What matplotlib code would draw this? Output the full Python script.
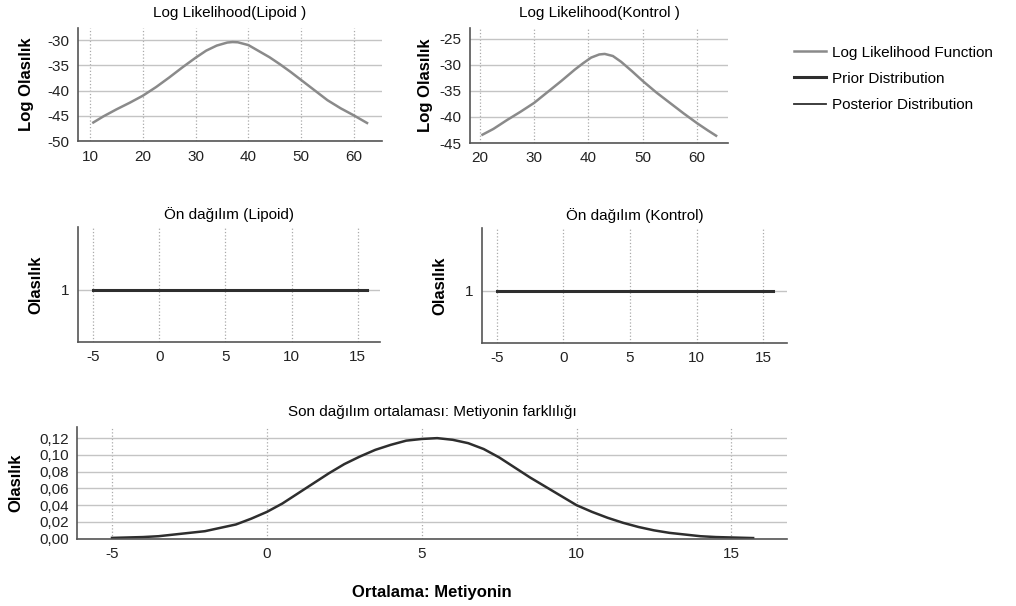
import matplotlib
matplotlib.use('Agg')
import matplotlib.pyplot as plt
from matplotlib.lines import Line2D

plt.rcParams['font.family'] = ['Liberation Sans', 'DejaVu Sans']
plt.rcParams['axes.unicode_minus'] = False

# log likelihood
lipoid_x = [10.6, 12.5, 15, 17.5, 20, 22.5, 25, 27.5, 30, 32, 34, 36, 37, 38,
            40, 42, 44, 46, 48, 50, 52.5, 55, 57.5, 60, 62.5]
lipoid_ll = [-46.3, -45.1, -43.7, -42.4, -41.0, -39.3, -37.4, -35.4, -33.5,
             -32.1, -31.1, -30.5, -30.4, -30.45, -31.0, -32.2, -33.4, -34.8,
             -36.3, -37.9, -39.9, -41.9, -43.5, -44.9, -46.4]
kontrol_x = [20.5, 22.5, 25, 27.5, 30, 32.5, 35, 37.5, 39, 40.5, 42, 43, 44.5,
             46, 48, 50, 52.5, 55, 57.5, 60, 62, 63.5]
kontrol_ll = [-43.4, -42.3, -40.6, -39.0, -37.3, -35.2, -33.1, -30.9, -29.7,
              -28.6, -28.0, -27.9, -28.3, -29.4, -31.2, -33.1, -35.3, -37.3,
              -39.3, -41.2, -42.6, -43.6]

# prior (flat)
prior_x = [-5, 15.7]
prior_lipoid = [1.0, 1.0]
prior_kontrol = [1.0, 1.0]

# posterior of the mean difference
post_x = [-5, -4.5, -4, -3.5, -3, -2.5, -2, -1.5, -1, -0.5, 0, 0.5, 1, 1.5, 2,
          2.5, 3, 3.5, 4, 4.5, 5, 5.5, 6, 6.5, 7, 7.5, 8, 8.5, 9, 9.5, 10,
          10.5, 11, 11.5, 12, 12.5, 13, 13.5, 14, 14.5, 15, 15.7]
post_y = [0.001, 0.0015, 0.002, 0.003, 0.005, 0.007, 0.009, 0.013, 0.017,
          0.024, 0.032, 0.042, 0.054, 0.066, 0.078, 0.089, 0.098, 0.106,
          0.112, 0.117, 0.119, 0.120, 0.118, 0.114, 0.107, 0.097, 0.085,
          0.073, 0.062, 0.051, 0.040, 0.032, 0.025, 0.019, 0.014, 0.010,
          0.007, 0.005, 0.003, 0.002, 0.0015, 0.0008]

ll_lip_yticks = [-50, -45, -40, -35, -30]
ll_kon_yticks = [-45, -40, -35, -30, -25]
ll_xticks = [10, 20, 30, 40, 50, 60]
prior_xticks = [-5, 0, 5, 10, 15]
post_yticks = [0.00, 0.02, 0.04, 0.06, 0.08, 0.10, 0.12]

LL_COL = '#8a8a8a'
DARK = '#2e2e2e'
GRID = '#c4c4c4'
FS = 11
LFS = 12


def style(ax):
    for s in ['top', 'right']:
        ax.spines[s].set_visible(False)
    for s in ['left', 'bottom']:
        ax.spines[s].set_color('#555555')
        ax.spines[s].set_linewidth(1.2)
    ax.tick_params(length=0, labelsize=FS, colors='#222222', pad=6)
    ax.grid(axis='y', color=GRID, lw=1.0, ls='-')
    ax.grid(axis='x', color='#aaaaaa', lw=0.9, ls=':')
    ax.set_axisbelow(True)


fig = plt.figure(figsize=(10.16, 6.06), dpi=100)

# Log likelihood (Lipoid)
ax1 = fig.add_axes([0.0768, 0.767, 0.299, 0.187])
ax1.plot(lipoid_x, lipoid_ll, color=LL_COL, lw=1.8)
ax1.set_xlim(7.7, 65.3)
ax1.set_ylim(-50, -27.6)
ax1.set_xticks(ll_xticks)
ax1.set_yticks(ll_lip_yticks)
ax1.set_title('Log Likelihood(Lipoid )', fontsize=FS, pad=8)
ax1.set_ylabel('Log Olasılık', fontsize=LFS, fontweight='bold')
ax1.yaxis.set_label_coords(-0.145, 0.5)
style(ax1)

# Log likelihood (Kontrol)
ax2 = fig.add_axes([0.4626, 0.764, 0.254, 0.190])
ax2.plot(kontrol_x, kontrol_ll, color=LL_COL, lw=1.8)
ax2.set_xlim(18.2, 65.7)
ax2.set_ylim(-45, -22.9)
ax2.set_xticks(ll_xticks[1:])
ax2.set_yticks(ll_kon_yticks)
ax2.set_title('Log Likelihood(Kontrol )', fontsize=FS, pad=8)
ax2.set_ylabel('Log Olasılık', fontsize=LFS, fontweight='bold')
ax2.yaxis.set_label_coords(-0.143, 0.5)
style(ax2)

# Prior (Lipoid)
ax3 = fig.add_axes([0.0768, 0.436, 0.297, 0.189])
ax3.plot(prior_x, prior_lipoid, color=DARK, lw=2.2)
ax3.set_xlim(-6.13, 16.66)
ax3.set_ylim(0.5, 1.6)
ax3.set_xticks(prior_xticks)
ax3.set_yticks([1])
ax3.set_title('Ön dağılım (Lipoid)', fontsize=FS, pad=6)
ax3.set_ylabel('Olasılık', fontsize=LFS, fontweight='bold')
ax3.yaxis.set_label_coords(-0.116, 0.5)
style(ax3)

# Prior (Kontrol)
ax4 = fig.add_axes([0.474, 0.434, 0.301, 0.190])
ax4.plot(prior_x, prior_kontrol, color=DARK, lw=2.2)
ax4.set_xlim(-6.13, 16.8)
ax4.set_ylim(0.5, 1.6)
ax4.set_xticks(prior_xticks)
ax4.set_yticks([1])
ax4.set_title('Ön dağılım (Kontrol)', fontsize=FS, pad=6)
ax4.set_ylabel('Olasılık', fontsize=LFS, fontweight='bold')
ax4.yaxis.set_label_coords(-0.111, 0.5)
style(ax4)

# Posterior
ax5 = fig.add_axes([0.0758, 0.111, 0.699, 0.184])
ax5.plot(post_x, post_y, color=DARK, lw=1.8)
ax5.set_xlim(-6.13, 16.8)
ax5.set_ylim(0, 0.133)
ax5.set_xticks(prior_xticks)
ax5.set_yticks(post_yticks)
ax5.set_yticklabels(['{:.2f}'.format(v).replace('.', ',') for v in post_yticks])
ax5.set_title('Son dağılım ortalaması: Metiyonin farklılığı', fontsize=FS, pad=8)
ax5.set_ylabel('Olasılık', fontsize=LFS, fontweight='bold')
ax5.yaxis.set_label_coords(-0.076, 0.5)
ax5.set_xlabel('Ortalama: Metiyonin', fontsize=LFS, fontweight='bold', labelpad=17)
style(ax5)

handles = [Line2D([], [], color=LL_COL, lw=1.8),
           Line2D([], [], color=DARK, lw=2.2),
           Line2D([], [], color=DARK, lw=1.3)]
fig.legend(handles, ['Log Likelihood Function', 'Prior Distribution',
                     'Posterior Distribution'],
           loc='upper left', bbox_to_anchor=(0.775, 0.935), frameon=False,
           fontsize=FS, handlelength=2.1, handletextpad=0.4, labelspacing=0.8,
           borderaxespad=0)

plt.savefig('out.png', dpi=100)
